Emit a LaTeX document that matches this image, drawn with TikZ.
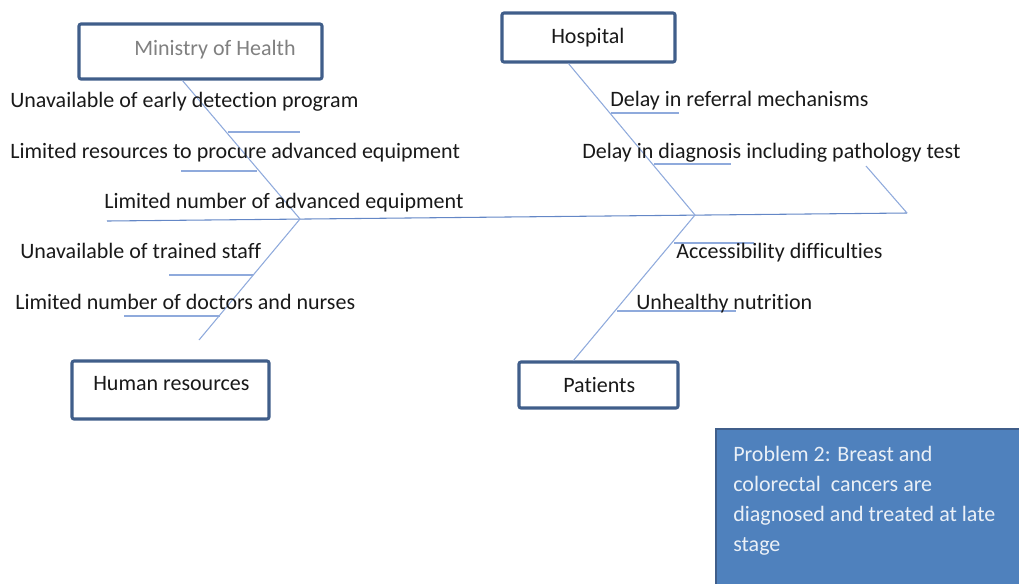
\documentclass[tikz,border=0pt]{standalone}
\usepackage{fontspec}
\setmainfont{Carlito}[Ligatures={NoCommon}]
\usetikzlibrary{fit}
\definecolor{figbone}{RGB}{143,170,220}
\definecolor{figspine}{RGB}{100,135,198}
\definecolor{figframe}{RGB}{64,94,138}
\definecolor{figfill}{RGB}{79,129,189}
\definecolor{figtext}{RGB}{25,25,25}
\definecolor{figgray}{RGB}{128,128,128}
\tikzset{
  causebox/.style={draw=figframe, line width=2.3pt, rounded corners=1.5pt, fill=white, inner sep=0pt},
  problembox/.style={draw=figframe, line width=1.6pt, fill=figfill, inner sep=0pt},
  boxtext/.style={font=\fontsize{16.5}{20}\selectfont, text=figtext, inner sep=0pt, anchor=base west},
  causetext/.style={font=\fontsize{16.5}{20}\selectfont, text=figtext, inner sep=0pt, anchor=base west},
  problemtext/.style={font=\fontsize{16.5}{22.5}\selectfont, text=white!88!figfill, inner sep=0pt, align=left, anchor=base west},
  bone/.style={draw=figbone, line width=0.8pt},
  spine/.style={draw=figspine, line width=0.8pt}
}

\begin{document}
\begin{tikzpicture}[x=0.75pt,y=-0.75pt]
  \clip (0,0) rectangle (1019,583);

  % category boxes
  \node[causebox, fit={(79,24) (322,79)}] (ministry) {};
  \node[boxtext, text=figgray] (ministrytxt) at (134,55) {Ministry of Health};
  \node[causebox, fit={(502,13) (675,62)}] (hospital) {};
  \node[boxtext] (hospitaltxt) at (551,43) {Hospital};
  \node[causebox, fit={(72,361) (269,419)}] (human) {};
  \node[boxtext] (humantxt) at (93,390) {Human resources};
  \node[causebox, fit={(519,362) (678,408)}] (patients) {};
  \node[boxtext] (patientstxt) at (563,392) {Patients};

  % problem box (text anchored on its last line)
  \node[problembox, fit={(716,429) (1040,600)}] (problem) {};
  \node[problemtext] (problemtxt) at (733,551) {Problem 2: Breast and\\colorectal\ \ cancers are\\diagnosed and treated at late\\stage};

  % spine and bones
  \coordinate (tail) at (107,221);
  \coordinate (head) at (907,213);
  \coordinate (headtip) at (866,166);
  \coordinate (leftjoint) at (300,219);
  \coordinate (rightjoint) at (695,215);
  \coordinate (humanend) at (199,340);
  \draw[spine] (tail) -- (head);
  \draw[bone] (headtip) -- (head);
  \draw[bone] (ministry.south west) ++(105,0) -- (leftjoint);
  \draw[bone] (leftjoint) -- (humanend);
  \draw[bone] (hospital.south west) ++(68,0) -- (rightjoint);
  \draw[bone] (rightjoint) -- ([xshift=42pt]patients.north west);

  % small ticks
  \foreach \xa/\xb/\yy in {228/300/132, 181/257/171, 169/253/275, 124/220/316,
                           611/679/113, 654/731/164, 674/754/243, 617/736/311}
    \draw[bone] (\xa,\yy) -- (\xb,\yy);

  % causes
  \node[causetext] (early) at (10,107) {Unavailable of early detection program};
  \node[causetext] (resources) at (10,158) {Limited resources to procure advanced equipment};
  \node[causetext] (equipment) at (104,208) {Limited number of advanced equipment};
  \node[causetext] (staff) at (20,258) {Unavailable of trained staff};
  \node[causetext] (doctors) at (15,309) {Limited number of doctors and nurses};
  \node[causetext] (referral) at (610,106) {Delay in referral mechanisms};
  \node[causetext] (diagnosis) at (582,158) {Delay in diagnosis including pathology test};
  \node[causetext] (access) at (676,258) {Accessibility difficulties};
  \node[causetext] (nutrition) at (636,309) {Unhealthy nutrition};
\end{tikzpicture}
\end{document}
